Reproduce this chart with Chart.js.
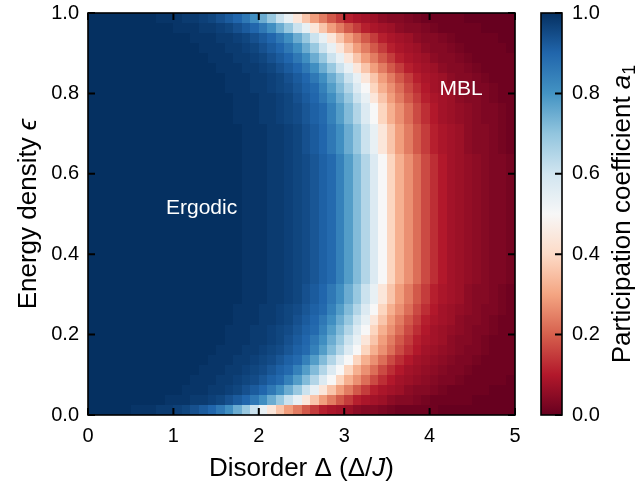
<!DOCTYPE html>
<html><head><meta charset="utf-8">
<script src="https://cdn.jsdelivr.net/npm/chart.js@4.4.1/dist/chart.umd.min.js"></script>
<style>html,body{margin:0;padding:0;background:#fff}#wrap{position:relative;width:635px;height:485px}</style>
</head><body><div id="wrap"><canvas id="c" width="635" height="485"></canvas></div>
<script>
// ---- data ----
const disorderTicks = [0, 1, 2, 3, 4, 5];
const energyTicks = [0, 0.2, 0.4, 0.6, 0.8, 1.0];
const colorbarTicks = [0, 0.2, 0.4, 0.6, 0.8, 1.0];
// cell centres
const disorder = [0.05,0.15,0.25,0.35,0.45,0.55,0.65,0.75,0.85,0.95,1.05,1.15,1.25,1.35,1.45,1.55,1.65,1.75,1.85,1.95,2.05,2.15,2.25,2.35,2.45,2.55,2.65,2.75,2.85,2.95,3.05,3.15,3.25,3.35,3.45,3.55,3.65,3.75,3.85,3.95,4.05,4.15,4.25,4.35,4.45,4.55,4.65,4.75,4.85,4.95];
const energy = [0.0125,0.0375,0.0625,0.0875,0.1125,0.1375,0.1625,0.1875,0.2125,0.2375,0.2625,0.2875,0.3125,0.3375,0.3625,0.3875,0.4125,0.4375,0.4625,0.4875,0.5125,0.5375,0.5625,0.5875,0.6125,0.6375,0.6625,0.6875,0.7125,0.7375,0.7625,0.7875,0.8125,0.8375,0.8625,0.8875,0.9125,0.9375,0.9625,0.9875];
// participation coefficient a1 (x100), one row per energy (bottom -> top), one value per disorder cell
const a1 = [
[100,100,100,100,100, 99,99,99,98,98,97,96,94,92,90,86,81,75,69,61,54,44,36,29,24,19,15,11,9,8,7,5,4,4,3,2,1,1,1,1,1,0,0,0,0,0,0,0,0,0],
[100,100,100,100,100,100,100,100,100, 99,99,99,98,98,97,96,94,92,90,86,81,75,69,61,54,44,36,29,24,19,15,11,9,8,7,5,4,4,3,2,1,1,1,1,1,0,0,0,0,0],
[100,100,100,100,100,100,100,100,100,100,100, 99,99,99,98,98,97,96,94,92,90,86,81,75,69,61,54,44,36,29,24,19,15,11,9,8,7,5,4,4,3,2,1,1,1,1,1,0,0,0],
[100,100,100,100,100,100,100,100,100,100,100,100, 99,99,99,98,98,97,96,95,93,91,89,84,78,72,65,57,50,39,32,27,22,17,13,10,8,7,6,5,4,3,3,2,1,1,1,1,1,0],
[100,100,100,100,100,100,100,100,100,100,100,100,100, 99,99,99,98,98,97,96,95,93,91,89,84,78,72,65,57,50,39,32,27,22,17,13,10,8,7,6,5,4,3,3,2,1,1,1,1,1],
[100,100,100,100,100,100,100,100,100,100,100,100,100,100, 99,99,99,98,98,97,96,95,93,91,89,84,78,72,65,57,50,39,32,27,22,17,13,10,8,7,6,5,4,3,3,2,1,1,1,1],
[100,100,100,100,100,100,100,100,100,100,100,100,100,100,100, 99,99,99,98,98,97,96,95,93,91,89,84,78,72,65,57,50,39,32,27,22,17,13,10,8,7,6,5,4,3,3,2,1,1,1],
[100,100,100,100,100,100,100,100,100,100,100,100,100,100,100,100, 99,99,99,98,98,97,96,94,92,90,86,81,75,69,61,54,44,36,29,24,19,15,11,9,8,7,5,4,4,3,2,1,1,1],
[100,100,100,100,100,100,100,100,100,100,100,100,100,100,100,100, 99,99,99,98,98,97,96,95,93,91,89,84,78,72,65,57,50,39,32,27,22,17,13,10,8,7,6,5,4,3,3,2,1,1],
[100,100,100,100,100,100,100,100,100,100,100,100,100,100,100,100,100, 99,99,99,98,98,97,96,94,92,90,86,81,75,69,61,54,44,36,29,24,19,15,11,9,8,7,5,4,4,3,2,1,1],
[100,100,100,100,100,100,100,100,100,100,100,100,100,100,100,100,100, 99,99,99,98,98,97,96,95,93,91,89,84,78,72,65,57,50,39,32,27,22,17,13,10,8,7,6,5,4,3,3,2,1],
[100,100,100,100,100,100,100,100,100,100,100,100,100,100,100,100,100,100, 99,99,99,98,98,97,96,94,92,90,86,81,75,69,61,54,44,36,29,24,19,15,11,9,8,7,5,4,4,3,2,1],
[100,100,100,100,100,100,100,100,100,100,100,100,100,100,100,100,100,100, 99,99,99,98,98,97,96,94,92,90,86,81,75,69,61,54,44,36,29,24,19,15,11,9,8,7,5,4,4,3,2,1],
[100,100,100,100,100,100,100,100,100,100,100,100,100,100,100,100,100,100, 99,99,99,98,98,97,96,95,93,91,89,84,78,72,65,57,50,39,32,27,22,17,13,10,8,7,6,5,4,3,3,2],
[100,100,100,100,100,100,100,100,100,100,100,100,100,100,100,100,100,100, 99,99,99,98,98,97,96,95,93,91,89,84,78,72,65,57,50,39,32,27,22,17,13,10,8,7,6,5,4,3,3,2],
[100,100,100,100,100,100,100,100,100,100,100,100,100,100,100,100,100,100, 99,99,99,98,98,97,96,95,93,91,89,84,78,72,65,57,50,39,32,27,22,17,13,10,8,7,6,5,4,3,3,2],
[100,100,100,100,100,100,100,100,100,100,100,100,100,100,100,100,100,100, 99,99,99,98,98,97,96,95,93,91,89,84,78,72,65,57,50,39,32,27,22,17,13,10,8,7,6,5,4,3,3,2],
[100,100,100,100,100,100,100,100,100,100,100,100,100,100,100,100,100,100, 99,99,99,98,98,97,96,95,93,91,89,84,78,72,65,57,50,39,32,27,22,17,13,10,8,7,6,5,4,3,3,2],
[100,100,100,100,100,100,100,100,100,100,100,100,100,100,100,100,100,100, 99,99,99,98,98,97,96,95,93,91,89,84,78,72,65,57,50,39,32,27,22,17,13,10,8,7,6,5,4,3,3,2],
[100,100,100,100,100,100,100,100,100,100,100,100,100,100,100,100,100,100, 99,99,99,98,98,97,96,95,93,91,89,84,78,72,65,57,50,39,32,27,22,17,13,10,8,7,6,5,4,3,3,2],
[100,100,100,100,100,100,100,100,100,100,100,100,100,100,100,100,100,100, 99,99,99,98,98,97,96,95,93,91,89,84,78,72,65,57,50,39,32,27,22,17,13,10,8,7,6,5,4,3,3,2],
[100,100,100,100,100,100,100,100,100,100,100,100,100,100,100,100,100,100, 99,99,99,98,98,97,96,95,93,91,89,84,78,72,65,57,50,39,32,27,22,17,13,10,8,7,6,5,4,3,3,2],
[100,100,100,100,100,100,100,100,100,100,100,100,100,100,100,100,100,100, 99,99,99,98,98,97,96,95,93,91,89,84,78,72,65,57,50,39,32,27,22,17,13,10,8,7,6,5,4,3,3,2],
[100,100,100,100,100,100,100,100,100,100,100,100,100,100,100,100,100,100, 99,99,99,98,98,97,96,95,93,91,89,84,78,72,65,57,50,39,32,27,22,17,13,10,8,7,6,5,4,3,3,2],
[100,100,100,100,100,100,100,100,100,100,100,100,100,100,100,100,100,100, 99,99,99,98,98,97,96,95,93,91,89,84,78,72,65,57,50,39,32,27,22,17,13,10,8,7,6,5,4,3,3,2],
[100,100,100,100,100,100,100,100,100,100,100,100,100,100,100,100,100,100, 99,99,99,98,98,97,96,95,93,91,89,84,78,72,65,57,50,39,32,27,22,17,13,10,8,7,6,5,4,3,3,2],
[100,100,100,100,100,100,100,100,100,100,100,100,100,100,100,100,100,100, 99,99,99,98,98,97,96,94,92,90,86,81,75,69,61,54,44,36,29,24,19,15,11,9,8,7,5,4,4,3,2,1],
[100,100,100,100,100,100,100,100,100,100,100,100,100,100,100,100,100,100, 99,99,99,98,98,97,96,94,92,90,86,81,75,69,61,54,44,36,29,24,19,15,11,9,8,7,5,4,4,3,2,1],
[100,100,100,100,100,100,100,100,100,100,100,100,100,100,100,100,100,100, 99,99,99,98,98,97,96,94,92,90,86,81,75,69,61,54,44,36,29,24,19,15,11,9,8,7,5,4,4,3,2,1],
[100,100,100,100,100,100,100,100,100,100,100,100,100,100,100,100,100, 99,99,99,98,98,97,96,95,93,91,89,84,78,72,65,57,50,39,32,27,22,17,13,10,8,7,6,5,4,3,3,2,1],
[100,100,100,100,100,100,100,100,100,100,100,100,100,100,100,100,100, 99,99,99,98,98,97,96,95,93,91,89,84,78,72,65,57,50,39,32,27,22,17,13,10,8,7,6,5,4,3,3,2,1],
[100,100,100,100,100,100,100,100,100,100,100,100,100,100,100,100,100, 99,99,99,98,98,97,96,94,92,90,86,81,75,69,61,54,44,36,29,24,19,15,11,9,8,7,5,4,4,3,2,1,1],
[100,100,100,100,100,100,100,100,100,100,100,100,100,100,100,100, 99,99,99,98,98,97,96,95,93,91,89,84,78,72,65,57,50,39,32,27,22,17,13,10,8,7,6,5,4,3,3,2,1,1],
[100,100,100,100,100,100,100,100,100,100,100,100,100,100,100,100, 99,99,99,98,98,97,96,94,92,90,86,81,75,69,61,54,44,36,29,24,19,15,11,9,8,7,5,4,4,3,2,1,1,1],
[100,100,100,100,100,100,100,100,100,100,100,100,100,100,100, 99,99,99,98,98,97,96,94,92,90,86,81,75,69,61,54,44,36,29,24,19,15,11,9,8,7,5,4,4,3,2,1,1,1,1],
[100,100,100,100,100,100,100,100,100,100,100,100,100,100, 99,99,99,98,98,97,96,94,92,90,86,81,75,69,61,54,44,36,29,24,19,15,11,9,8,7,5,4,4,3,2,1,1,1,1,1],
[100,100,100,100,100,100,100,100,100,100,100,100,100, 99,99,99,98,98,97,96,94,92,90,86,81,75,69,61,54,44,36,29,24,19,15,11,9,8,7,5,4,4,3,2,1,1,1,1,1,0],
[100,100,100,100,100,100,100,100,100,100,100,100, 99,99,99,98,98,97,96,94,92,90,86,81,75,69,61,54,44,36,29,24,19,15,11,9,8,7,5,4,4,3,2,1,1,1,1,1,0,0],
[100,100,100,100,100,100,100,100,100,100, 99,99,99,98,98,97,96,94,92,90,86,81,75,69,61,54,44,36,29,24,19,15,11,9,8,7,5,4,4,3,2,1,1,1,1,1,0,0,0,0],
[100,100,100,100,100,100,100,100, 99,99,99,98,98,97,96,94,92,90,86,81,75,69,61,54,44,36,29,24,19,15,11,9,8,7,5,4,4,3,2,1,1,1,1,1,0,0,0,0,0,0]
];
const regionLabels = ['Ergodic', 'MBL'];
const regionDisorder = [1.33, 4.37];
const regionEnergy = [0.515, 0.81];

// ---- colormap (RdBu) ----
const RDBU = ['#67001f','#b2182b','#d6604d','#f4a582','#fddbc7','#f7f7f7','#d1e5f0','#92c5de','#4393c3','#2166ac','#053061'];
const RGB = RDBU.map(h => [parseInt(h.slice(1,3),16), parseInt(h.slice(3,5),16), parseInt(h.slice(5,7),16)]);
function cmap(v){
  v = Math.max(0, Math.min(1, v));
  const t = v * 10, i = Math.min(9, Math.floor(t)), f = t - i, a = RGB[i], b = RGB[i+1];
  return 'rgb(' + Math.round(a[0]+(b[0]-a[0])*f) + ',' + Math.round(a[1]+(b[1]-a[1])*f) + ',' + Math.round(a[2]+(b[2]-a[2])*f) + ')';
}

const FAM = '"Liberation Sans", Arial, Helvetica, sans-serif';
const cells = [];
energy.forEach((e, r) => disorder.forEach((d, k) => cells.push({x: d, y: e, v: a1[r][k]})));

const heatmap = {
  id: 'heatmap',
  beforeDatasetsDraw(chart){
    const {ctx, chartArea: ca} = chart, xs = chart.scales.x, ys = chart.scales.y;
    const hx = (disorder[1]-disorder[0])/2, hy = (energy[1]-energy[0])/2;
    ctx.save();
    ctx.beginPath(); ctx.rect(ca.left, ca.top, ca.width, ca.height); ctx.clip();
    chart.data.datasets[0].data.forEach(p => {
      if (p.v === undefined) return;
      const x0 = Math.round(xs.getPixelForValue(p.x-hx)), x1 = Math.round(xs.getPixelForValue(p.x+hx));
      const y0 = Math.round(ys.getPixelForValue(p.y+hy)), y1 = Math.round(ys.getPixelForValue(p.y-hy));
      ctx.fillStyle = cmap(p.v/100);
      ctx.fillRect(x0, y0, x1-x0, y1-y0);
    });
    ctx.restore();
  }
};

function drawRich(ctx, parts, cx, cy, rot){
  ctx.save(); ctx.translate(cx, cy); ctx.rotate(rot);
  let w = 0;
  parts.forEach(p => { ctx.font = p.font; p.w = ctx.measureText(p.t).width; w += p.w; });
  let x = -w/2; ctx.textAlign = 'left'; ctx.textBaseline = 'alphabetic'; ctx.fillStyle = '#000';
  parts.forEach(p => { ctx.font = p.font; ctx.fillText(p.t, x, p.dy || 0); x += p.w; });
  ctx.restore();
}

const decor = {
  id: 'decor',
  afterDraw(chart){
    const {ctx, chartArea: ca} = chart, xs = chart.scales.x, ys = chart.scales.y, cb = chart.scales.cb;
    const TL = 7;
    ctx.save();
    // region labels
    ctx.fillStyle = '#fff'; ctx.font = '21px ' + FAM; ctx.textAlign = 'center'; ctx.textBaseline = 'middle';
    regionLabels.forEach((t, i) => ctx.fillText(t, xs.getPixelForValue(regionDisorder[i]), ys.getPixelForValue(regionEnergy[i])));
    // frame + inward ticks
    ctx.strokeStyle = '#000'; ctx.lineWidth = 1.6;
    ctx.strokeRect(ca.left, ca.top, ca.width, ca.height);
    ctx.lineWidth = 2; ctx.beginPath();
    disorderTicks.forEach(v => { const px = xs.getPixelForValue(v);
      ctx.moveTo(px, ca.bottom); ctx.lineTo(px, ca.bottom-TL); ctx.moveTo(px, ca.top); ctx.lineTo(px, ca.top+TL); });
    energyTicks.forEach(v => { const py = ys.getPixelForValue(v);
      ctx.moveTo(ca.left, py); ctx.lineTo(ca.left+TL, py); ctx.moveTo(ca.right, py); ctx.lineTo(ca.right-TL, py); });
    ctx.stroke();
    // colour bar
    const cbL = ca.right + 26, cbW = 21, cbR = cbL + cbW;
    const top = cb.getPixelForValue(1), bot = cb.getPixelForValue(0);
    const g = ctx.createLinearGradient(0, bot, 0, top);
    RDBU.forEach((c, i) => g.addColorStop(i/10, c));
    ctx.fillStyle = g; ctx.fillRect(cbL, top, cbW, bot-top);
    ctx.lineWidth = 1.6; ctx.strokeRect(cbL, top, cbW, bot-top);
    ctx.lineWidth = 2; ctx.beginPath();
    colorbarTicks.forEach(v => { const py = cb.getPixelForValue(v); ctx.moveTo(cbR, py); ctx.lineTo(cbR-TL, py); });
    ctx.stroke();
    ctx.restore();
    // axis titles
    const F = 26, R = F + 'px ' + FAM, I = 'italic ' + F + 'px ' + FAM;
    drawRich(ctx, [{t:'Disorder Δ (Δ/', font:R}, {t:'J', font:I}, {t:')', font:R}], (ca.left+ca.right)/2, 476, 0);
    drawRich(ctx, [{t:'Energy density ', font:R}, {t:'ϵ', font:I}], 36, (ca.top+ca.bottom)/2, -Math.PI/2);
    drawRich(ctx, [{t:'Participation coefficient ', font:R}, {t:'a', font:I}, {t:'1', font:'18px ' + FAM, dy:5}], 630, (ca.top+ca.bottom)/2, -Math.PI/2);
  }
};

const tickFont = {family: FAM, size: 20};
const hidden = 'rgba(0,0,0,0)';
new Chart(document.getElementById('c'), {
  type: 'scatter',
  data: {datasets: [{data: cells, pointRadius: 0, pointHoverRadius: 0}]},
  options: {
    responsive: false, animation: false, devicePixelRatio: 1, events: [],
    layout: {padding: {top: 13, left: 0, right: 0, bottom: 0}},
    plugins: {legend: {display: false}, tooltip: {enabled: false}},
    scales: {
      x: {type: 'linear', min: 0, max: 5, grid: {display: true, drawOnChartArea: false, drawTicks: true, tickLength: 9, color: hidden}, border: {display: false},
          afterBuildTicks: s => { s.ticks = disorderTicks.map(v => ({value: v})); },
          afterFit: s => { s.height = 70; },
          ticks: {font: tickFont, color: '#000', padding: 0, maxRotation: 0, callback: v => String(v)}},
      y: {type: 'linear', min: 0, max: 1, grid: {display: true, drawOnChartArea: false, drawTicks: true, tickLength: 9, color: hidden}, border: {display: false},
          afterBuildTicks: s => { s.ticks = energyTicks.map(v => ({value: v})); },
          afterFit: s => { s.width = 88; },
          ticks: {font: tickFont, color: '#000', padding: 0, callback: v => Number(v).toFixed(1)}},
      cb: {type: 'linear', axis: 'y', position: 'right', min: 0, max: 1, grid: {display: true, drawOnChartArea: false, drawTicks: true, tickLength: 57, color: hidden}, border: {display: false},
          afterBuildTicks: s => { s.ticks = colorbarTicks.map(v => ({value: v})); },
          afterFit: s => { s.width = 120; },
          ticks: {font: tickFont, color: '#000', padding: 0, callback: v => Number(v).toFixed(1)}}
    }
  },
  plugins: [heatmap, decor]
});
</script></body></html>
